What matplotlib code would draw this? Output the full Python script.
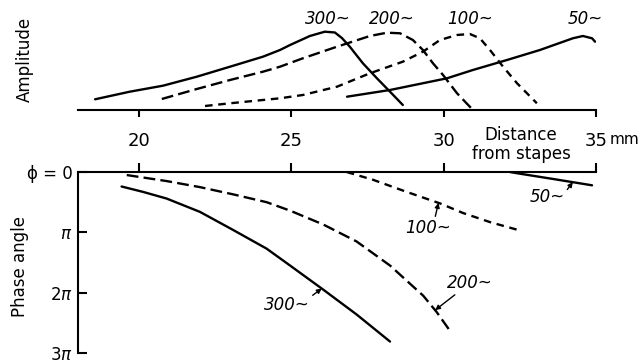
import numpy as np
import matplotlib
matplotlib.use('Agg')
import matplotlib.pyplot as plt

# distance from stapes (mm) and relative amplitude of the travelling wave
amp_x_300 = [18.56, 19.70, 20.79, 21.90, 22.99, 24.07, 24.63, 24.96, 25.61, 26.10,
             26.43, 26.66, 26.92, 27.35, 27.81, 28.24, 28.66]
amp_y_300 = [1.07, 1.83, 2.43, 3.33, 4.33, 5.33, 6.0, 6.5, 7.4, 7.83,
             7.75, 7.2, 6.33, 4.67, 3.17, 1.83, 0.5]
amp_x_200 = [20.75, 21.90, 22.99, 24.07, 24.63, 25.38, 26.50, 27.58, 28.14, 28.57,
             28.99, 29.32, 29.65, 29.98, 30.44, 30.93]
amp_y_200 = [1.1, 2.1, 3.0, 3.83, 4.33, 5.17, 6.33, 7.4, 7.73, 7.67,
             7.0, 6.0, 4.67, 3.5, 1.67, 0.1]
amp_x_100 = [22.17, 22.99, 24.07, 24.63, 25.38, 26.50, 27.58, 28.66, 29.32, 29.88,
             30.44, 30.86, 31.19, 31.52, 31.95, 32.41, 33.06]
amp_y_100 = [0.4, 0.67, 1.0, 1.17, 1.5, 2.33, 3.67, 4.83, 5.83, 7.0,
             7.5, 7.6, 7.17, 6.0, 4.33, 2.67, 0.67]
amp_x_50 = [26.83, 28.24, 30.11, 30.96, 32.08, 33.16, 34.24, 34.57, 34.87, 34.97]
amp_y_50 = [1.33, 2.0, 3.17, 4.0, 5.0, 6.0, 7.17, 7.4, 7.17, 6.83]

# phase lag in units of pi
ph_x_300 = [19.43, 20.14, 20.91, 22.00, 23.09, 24.19, 24.96, 26.05, 27.14, 28.24]
ph_y_300 = [0.24, 0.33, 0.44, 0.66, 0.96, 1.27, 1.55, 1.95, 2.36, 2.81]
ph_x_200 = [19.60, 20.91, 22.00, 23.09, 24.19, 24.96, 26.05, 27.14, 28.24, 29.33, 29.77, 30.26]
ph_y_200 = [0.05, 0.15, 0.25, 0.37, 0.50, 0.64, 0.87, 1.15, 1.55, 2.05, 2.32, 2.67]
ph_x_100 = [26.82, 27.69, 28.79, 29.88, 30.64, 31.52, 32.44]
ph_y_100 = [0.0, 0.13, 0.33, 0.52, 0.68, 0.83, 0.96]
ph_x_50 = [32.18, 32.41, 33.65, 34.87]
ph_y_50 = [0.0, 0.02, 0.12, 0.22]

freq_labels = ['300~', '200~', '100~', '50~']
x_ticks = [20, 25, 30, 35]
x_ticklabels = ['20', '25', '30', '35']
phase_ticks = [0, 1, 2, 3]
phase_ticklabels = ['ϕ = 0', '$\\pi$', '$2\\pi$', '$3\\pi$']

solid = dict(color='black', lw=1.7, solid_capstyle='round', solid_joinstyle='round')
long_dash = dict(color='black', lw=1.7, dashes=(5, 2.2))
short_dash = dict(color='black', lw=1.7, dashes=(3.2, 2.4))

plt.rcParams['font.family'] = 'DejaVu Sans'
fig = plt.figure(figsize=(6.43, 3.63), dpi=100)

# amplitude envelopes
ax1 = fig.add_axes([0.1213, 0.697, 0.8056, 0.2617])
ax1.plot(amp_x_300, amp_y_300, **solid)
ax1.plot(amp_x_200, amp_y_200, **long_dash)
ax1.plot(amp_x_100, amp_y_100, **short_dash)
ax1.plot(amp_x_50, amp_y_50, **solid)
ax1.set_xlim(18, 35)
ax1.set_ylim(0, 9.5)
for s in ['top', 'right', 'left']:
    ax1.spines[s].set_visible(False)
ax1.spines['bottom'].set_linewidth(1.5)
ax1.set_yticks([])
ax1.set_xticks(x_ticks)
ax1.set_xticklabels(x_ticklabels, fontsize=13)
ax1.tick_params(axis='x', direction='out', length=5, width=1.5, pad=11)

label_x = [26.2, 28.3, 30.86, 34.64]
for lab, px in zip(freq_labels, label_x):
    ax1.text(px, 9.1, lab, ha='center', va='center', fontsize=12,
             style='italic', clip_on=False)

ax1.text(32.54, -3.45, 'Distance\nfrom stapes', ha='center', va='center',
         fontsize=12, linespacing=1.05)
ax1.text(35.95, -3.0, 'mm', ha='center', va='center', fontsize=11)

# phase curves
ax2 = fig.add_axes([0.1213, 0.0275, 0.8056, 0.4986])
ax2.plot(ph_x_300, ph_y_300, **solid)
ax2.plot(ph_x_200, ph_y_200, **long_dash)
ax2.plot(ph_x_100, ph_y_100, **short_dash)
ax2.plot(ph_x_50, ph_y_50, **solid)
ax2.set_xlim(18, 35)
ax2.set_ylim(3, 0)
for s in ['bottom', 'right']:
    ax2.spines[s].set_visible(False)
ax2.spines['top'].set_linewidth(1.5)
ax2.spines['left'].set_linewidth(1.5)
ax2.xaxis.set_ticks_position('top')
ax2.set_xticks(x_ticks)
ax2.set_xticklabels([])
ax2.tick_params(axis='x', direction='out', length=6.5, width=1.5)
ax2.set_yticks(phase_ticks)
ax2.set_yticklabels(phase_ticklabels, fontsize=12)
ax2.tick_params(axis='y', direction='in', length=6.5, width=1.5, pad=4)

# labels with arrows onto each phase curve
text_pos = [(24.86, 2.21), (30.86, 1.84), (29.48, 0.93), (33.39, 0.41)]
arrow_x = [26.0, 29.72, 29.83, 34.24]
rel = [(0.95, 0.85), (0.25, 0.0), (0.65, 1.0), (1.0, 0.7)]
curves = [(ph_x_300, ph_y_300), (ph_x_200, ph_y_200),
          (ph_x_100, ph_y_100), (ph_x_50, ph_y_50)]
for lab, tp, axx, rp, (cx, cy) in zip(freq_labels, text_pos, arrow_x, rel, curves):
    ay = np.interp(axx, cx, cy)
    ax2.annotate(lab, xy=(axx, ay), xytext=tp, ha='center', va='center',
                 fontsize=12, style='italic',
                 arrowprops=dict(arrowstyle='-|>', color='black', lw=1.0,
                                 mutation_scale=7, relpos=rp,
                                 shrinkA=0, shrinkB=0))

fig.text(0.039, 0.835, 'Amplitude', rotation=90, ha='center', va='center', fontsize=12)
fig.text(0.031, 0.265, 'Phase angle', rotation=90, ha='center', va='center', fontsize=12)

fig.savefig('out.png', dpi=100)
